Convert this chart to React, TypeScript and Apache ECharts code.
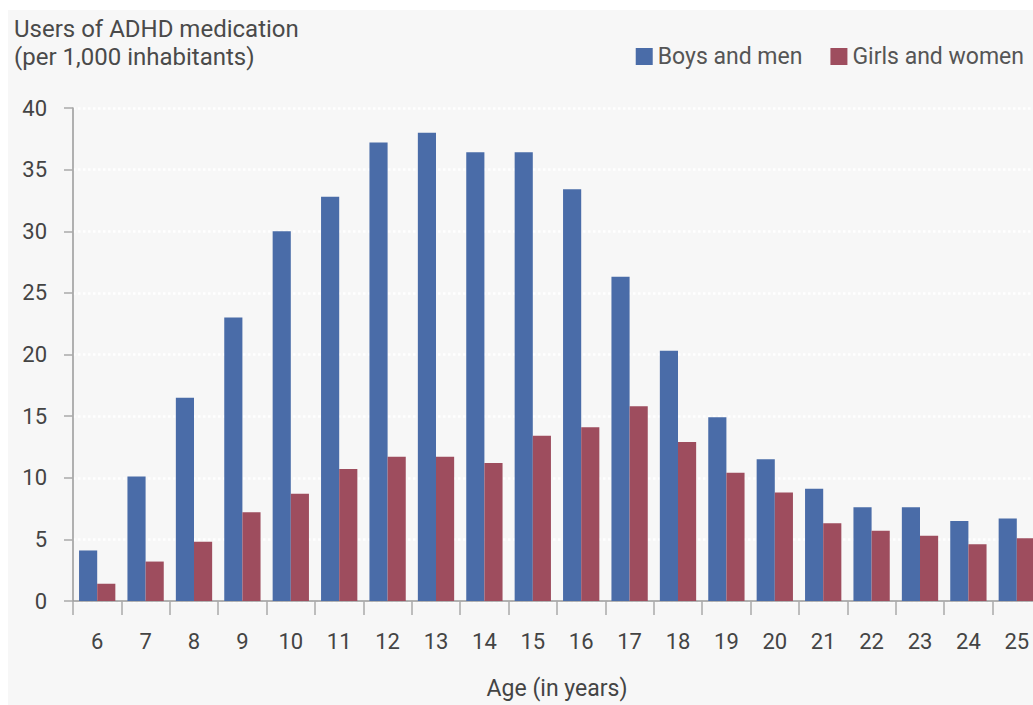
import React, { useEffect, useRef } from "react";
import * as echarts from "echarts";

const ages = ["6","7","8","9","10","11","12","13","14","15","16","17","18","19","20","21","22","23","24","25"];
const boysAndMen = [4.1, 10.1, 16.5, 23.0, 30.0, 32.8, 37.2, 38.0, 36.4, 36.4, 33.4, 26.3, 20.3, 14.9, 11.5, 9.1, 7.6, 7.6, 6.5, 6.7];
const girlsAndWomen = [1.4, 3.2, 4.8, 7.2, 8.7, 10.7, 11.7, 11.7, 11.2, 13.4, 14.1, 15.8, 12.9, 10.4, 8.8, 6.3, 5.7, 5.3, 4.6, 5.1];

const FONT = "Roboto, 'DejaVu Sans', sans-serif";

export default function App() {
  const ref = useRef<HTMLDivElement>(null);
  useEffect(() => {
    document.body.style.margin = "0";
    const chart = echarts.init(ref.current!, undefined, { renderer: "svg" });
    chart.setOption({
      animation: false,
      backgroundColor: "#ffffff",
      textStyle: { fontFamily: FONT },
      graphic: [
        { type: "rect", z: -10, shape: { x: 8, y: 10, width: 1030, height: 700 }, style: { fill: "#f7f7f7" }, silent: true },
      ],
      title: {
        text: "Users of ADHD medication\n(per 1,000 inhabitants)",
        left: 9,
        top: 10,
        textStyle: { fontFamily: FONT, fontSize: 24, lineHeight: 28, fontWeight: "normal", color: "#4a4a4a" },
      },
      legend: {
        right: 4,
        top: 40,
        itemWidth: 17,
        itemHeight: 17,
        itemGap: 28,
        icon: "rect",
        textStyle: { fontFamily: FONT, fontSize: 23, color: "#555" },
        data: ["Boys and men", "Girls and women"],
      },
      grid: { left: 73, right: -8, top: 108, bottom: 104, containLabel: false, outerBoundsMode: "none" },
      xAxis: {
        type: "category",
        data: ages,
        name: "Age (in years)",
        nameLocation: "middle",
        nameGap: 76,
        nameTextStyle: { fontFamily: FONT, fontSize: 23, color: "#444" },
        axisLine: { lineStyle: { color: "#999", width: 1.5 } },
        axisTick: { show: true, length: 14, lineStyle: { color: "#aaa", width: 1.5 } },
        axisLabel: { fontFamily: FONT, fontSize: 22, color: "#444", margin: 29 },
      },
      yAxis: {
        type: "value",
        min: 0,
        max: 40,
        interval: 5,
        axisLine: { show: true, lineStyle: { color: "#999", width: 1.5 } },
        axisTick: { show: true, length: 9, lineStyle: { color: "#aaa", width: 1.5 } },
        axisLabel: { fontFamily: FONT, fontSize: 22, color: "#444", margin: 26 },
        splitLine: { show: true, lineStyle: { color: "#ffffff", type: "dotted", width: 2.5 } },
      },
      series: [
        {
          name: "Boys and men",
          type: "bar",
          data: boysAndMen,
          barGap: "0%",
          barCategoryGap: "25%",
          itemStyle: { color: "#4a6ca8" },
        },
        {
          name: "Girls and women",
          type: "bar",
          data: girlsAndWomen,
          itemStyle: { color: "#9e4d5e" },
        },
      ],
    });
    return () => chart.dispose();
  }, []);
  return <div ref={ref} style={{ width: 1033, height: 705 }} />;
}
